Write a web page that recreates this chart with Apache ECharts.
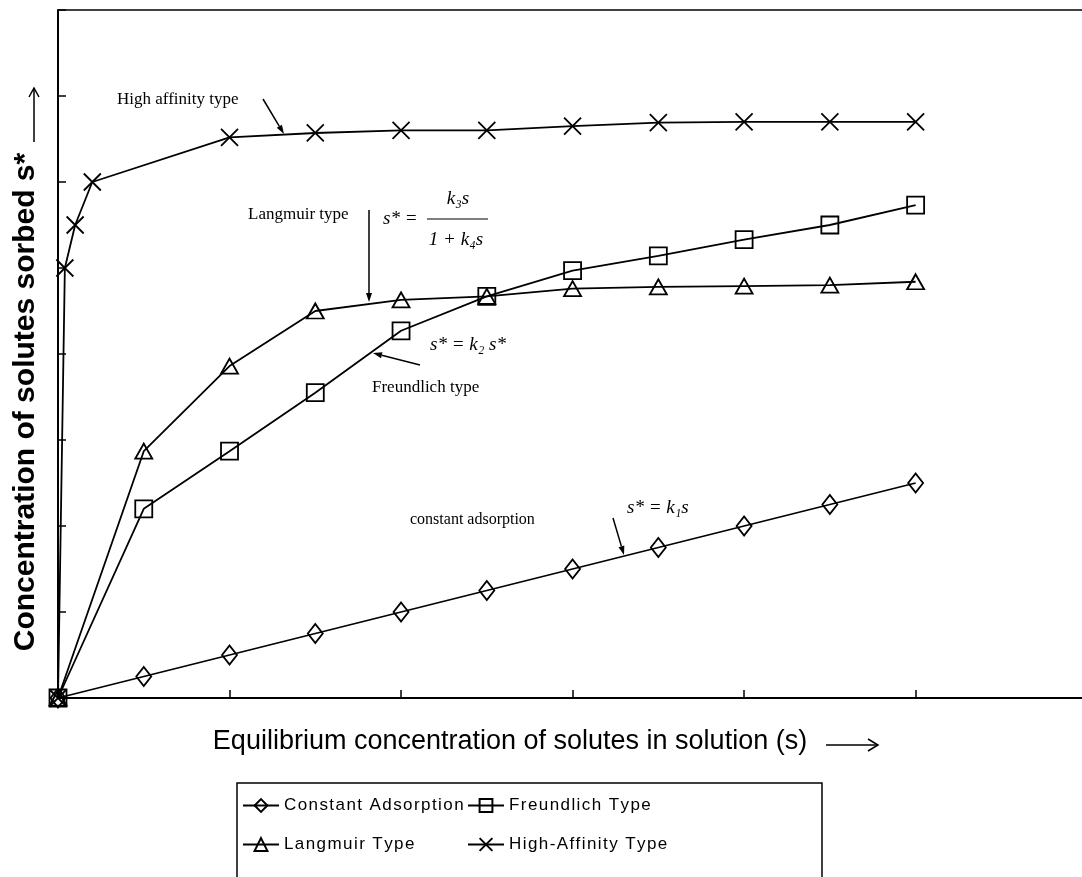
<!DOCTYPE html>
<html>
<head>
<meta charset="utf-8">
<script src="https://cdn.jsdelivr.net/npm/echarts@6/dist/echarts.min.js"></script>
<style>
html, body { margin: 0; padding: 0; background: #fff; }
#chart { width: 1082px; height: 877px; }
</style>
</head>
<body>
<div id="chart"></div>
<script>
"use strict";
// 横轴 平衡浓度 s
const sValues = [0, 0.5, 1, 1.5, 2, 2.5, 3, 3.5, 4, 4.5, 5];
const highS = [0, 0.04, 0.1, 0.2, 1, 1.5, 2, 2.5, 3, 3.5, 4, 4.5, 5];
const xTicks = [1, 2, 3, 4, 5];
// 吸附量 s*
const constantVals = [0, 0.25, 0.5, 0.75, 1.0, 1.25, 1.5, 1.75, 2.0, 2.25, 2.5];
const freundlichVals = [0, 2.2, 2.87, 3.55, 4.27, 4.67, 4.97, 5.14, 5.33, 5.5, 5.73];
const langmuirVals = [0, 2.87, 3.86, 4.5, 4.63, 4.67, 4.76, 4.78, 4.79, 4.8, 4.84];
const highVals = [0, 5.0, 5.5, 6.0, 6.52, 6.57, 6.6, 6.6, 6.65, 6.69, 6.7, 6.7, 6.7];
const seriesNames = ['Constant Adsorption', 'Freundlich Type', 'Langmuir Type', 'High-Affinity Type'];

const chart = echarts.init(document.getElementById('chart'), null, { renderer: 'canvas' });

const pair = (xs, ys) => xs.map((x, i) => [x, ys[i]]);
const serif = '"Liberation Serif", "DejaVu Serif", serif';

// 箭头 注释用
function arrow(x1, y1, x2, y2) {
  const ang = Math.atan2(y2 - y1, x2 - x1);
  const len = 9, w = 3;
  const bx = x2 - len * Math.cos(ang), by = y2 - len * Math.sin(ang);
  const px = -Math.sin(ang) * w, py = Math.cos(ang) * w;
  return [
    { type: 'line', shape: { x1: x1, y1: y1, x2: bx, y2: by }, style: { stroke: '#000', lineWidth: 1.5 } },
    { type: 'polygon', shape: { points: [[x2, y2], [bx + px, by + py], [bx - px, by - py]] }, style: { fill: '#000' } }
  ];
}

function label(text, x, y, font, align, rotation) {
  return {
    type: 'text', x: x, y: y, rotation: rotation || 0,
    style: {
      text: text, font: font, fill: '#000',
      align: align || 'left', textAlign: align || 'left',
      verticalAlign: 'middle', textVerticalAlign: 'middle'
    }
  };
}

const lineSeries = (name, data, symbol, size) => ({
  name: name,
  type: 'line',
  data: data,
  symbol: symbol,
  symbolSize: size,
  showAllSymbol: true,
  lineStyle: { color: '#000', width: 1.8 },
  itemStyle: { color: 'rgba(255,255,255,0)', borderColor: '#000', borderWidth: 1.8 },
  emphasis: { disabled: true },
  animation: false
});

const legendText = {
  fontFamily: '"Liberation Sans Narrow", "Liberation Sans", sans-serif',
  fontSize: 17,
  color: '#000'
};
const spaced = name => name.split('').join('\u200A');

const option = {
  backgroundColor: '#fff',
  animation: false,
  grid: { left: 58, top: 10, right: 0, bottom: 179 },
  xAxis: {
    type: 'value', min: 0, max: 5.97, interval: 1,
    axisLine: { lineStyle: { color: '#000', width: 2 } },
    axisTick: { inside: true, length: 8, customValues: xTicks, lineStyle: { color: '#000', width: 1.5 } },
    axisLabel: { show: false },
    splitLine: { show: false }
  },
  yAxis: {
    type: 'value', min: 0, max: 8, interval: 1,
    axisLine: { lineStyle: { color: '#000', width: 2 } },
    axisTick: { inside: true, length: 8, lineStyle: { color: '#000', width: 1.5 } },
    axisLabel: { show: false },
    splitLine: { show: false }
  },
  legend: [
    {
      data: [seriesNames[0], seriesNames[2]],
      orient: 'vertical', left: 242, top: 797, padding: 0, itemGap: 22,
      itemWidth: 36, itemHeight: 16, selectedMode: false,
      textStyle: legendText, formatter: spaced
    },
    {
      data: [seriesNames[1], seriesNames[3]],
      orient: 'vertical', left: 467, top: 797, padding: 0, itemGap: 22,
      itemWidth: 36, itemHeight: 16, selectedMode: false,
      textStyle: legendText, formatter: spaced
    }
  ],
  series: [
    lineSeries(seriesNames[0], pair(sValues, constantVals), 'diamond', [15, 19]),
    lineSeries(seriesNames[1], pair(sValues, freundlichVals), 'rect', 17),
    lineSeries(seriesNames[2], pair(sValues, langmuirVals), 'triangle', [17, 15]),
    lineSeries(seriesNames[3], pair(highS, highVals), 'path://M0,0L10,10M10,0L0,10', 17)
  ],
  graphic: [
    // 图框顶边
    { type: 'line', shape: { x1: 58, y1: 10, x2: 1082, y2: 10 }, style: { stroke: '#000', lineWidth: 1.5 } },
    // 图例外框
    { type: 'rect', shape: { x: 237, y: 783, width: 585, height: 120 }, style: { fill: 'none', stroke: '#000', lineWidth: 1.5 } },
    // 坐标轴标题
    label('Concentration of solutes sorbed s*', 26, 402, 'bold 30px "Liberation Sans", Arial, sans-serif', 'center', Math.PI / 2),
    { type: 'line', shape: { x1: 34, y1: 142, x2: 34, y2: 88 }, style: { stroke: '#000', lineWidth: 1.5 } },
    { type: 'polyline', shape: { points: [[29, 97], [34, 88], [39, 97]] }, style: { stroke: '#000', lineWidth: 1.5, fill: null } },
    label('Equilibrium concentration of solutes in solution (s)', 510, 742, '27px "Liberation Sans", Arial, sans-serif', 'center'),
    { type: 'line', shape: { x1: 826, y1: 745, x2: 878, y2: 745 }, style: { stroke: '#000', lineWidth: 1.5 } },
    { type: 'polyline', shape: { points: [[868, 739], [878, 745], [868, 751]] }, style: { stroke: '#000', lineWidth: 1.5, fill: null } },
    // 曲线注释
    label('High affinity type', 117, 100, '17px ' + serif),
    ...arrow(263, 99, 284, 134),
    label('Langmuir type', 248, 215, '17px ' + serif),
    ...arrow(369, 210, 369, 302),
    label('s* =', 383, 219, 'italic 19px ' + serif),
    label('k\u2083s', 458, 199, 'italic 19px ' + serif, 'center'),
    { type: 'line', shape: { x1: 427, y1: 219, x2: 488, y2: 219 }, style: { stroke: '#000', lineWidth: 1.2 } },
    label('1 + k\u2084s', 456, 240, 'italic 19px ' + serif, 'center'),
    label('s* = k\u2082 s*', 430, 345, 'italic 19px ' + serif),
    label('Freundlich type', 372, 388, '17px ' + serif),
    ...arrow(420, 365, 373, 353),
    label('constant adsorption', 410, 520, '16px ' + serif),
    ...arrow(613, 518, 624, 555),
    label('s* = k\u2081s', 627, 508, 'italic 19px ' + serif)
  ]
};

chart.setOption(option);
</script>
</body>
</html>
